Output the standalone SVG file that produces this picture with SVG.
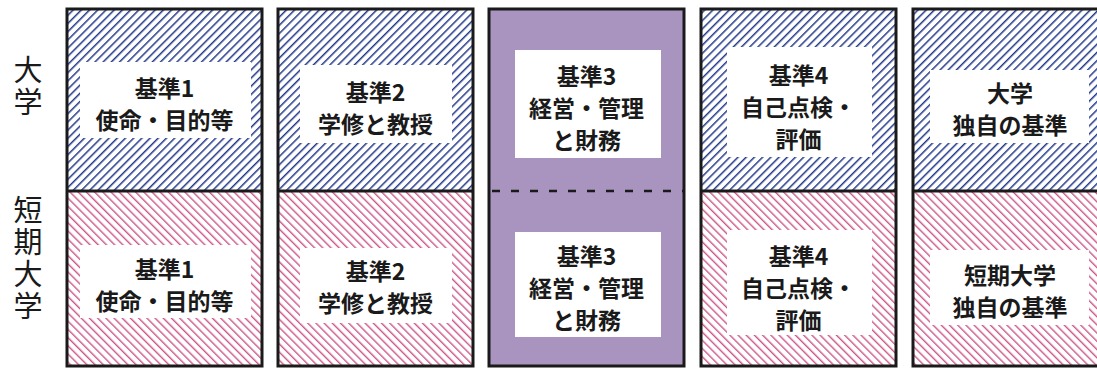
<svg xmlns="http://www.w3.org/2000/svg" width="1097" height="372" viewBox="0 0 1097 372">
  <defs>
    <pattern id="hatchBlue" patternUnits="userSpaceOnUse" width="5.8" height="5.8" patternTransform="rotate(45)">
      <rect width="5.8" height="5.8" fill="#ffffff"/>
      <line x1="0" y1="0" x2="0" y2="5.8" stroke="#23398a" stroke-width="3"/>
    </pattern>
    <pattern id="hatchPink" patternUnits="userSpaceOnUse" width="5.8" height="5.8" patternTransform="rotate(-45)">
      <rect width="5.8" height="5.8" fill="#ffffff"/>
      <line x1="0" y1="0" x2="0" y2="5.8" stroke="#cc5588" stroke-width="2.8"/>
    </pattern>
  </defs>
  <style>
    .univ { fill: url(#hatchBlue); }
    .junior { fill: url(#hatchPink); }
    .purple { fill: #a994c0; }
    .frame { fill: none; stroke: #1a1a1a; stroke-width: 3; }
    .div { stroke: #1a1a1a; stroke-width: 3; }
    .dash { stroke: #1a1a1a; stroke-width: 2.5; stroke-dasharray: 8 11; }
    .box { fill: #ffffff; }
    .t { font-family: "Noto Sans CJK JP", "Noto Sans", sans-serif; font-size: 23px; font-weight: 700; fill: #1a1a1a; text-anchor: middle; dominant-baseline: central; }
    .side { font-family: "Noto Sans CJK JP", sans-serif; font-size: 29px; font-weight: 400; fill: #1a1a1a; writing-mode: vertical-rl; letter-spacing: 3px; }
  </style>

  <g id="side-labels">
    <text class="side" x="28" y="55">大学</text>
    <text class="side" x="28" y="195">短期大学</text>
  </g>

  <g id="col1">
    <rect class="univ" x="67" y="9" width="195" height="182"/>
    <rect class="junior" x="67" y="191" width="195" height="175"/>
    <rect class="box" x="80" y="62" width="171" height="76"/>
    <text class="t" x="164.5" y="87">基準1<tspan x="164.5" dy="31.5">使命・目的等</tspan></text>
    <rect class="box" x="80" y="245" width="171" height="73"/>
    <text class="t" x="164.5" y="268">基準1<tspan x="164.5" dy="31.5">使命・目的等</tspan></text>
    <rect class="frame" x="67" y="9" width="195" height="357"/>
    <line class="div" x1="67" y1="191" x2="262" y2="191"/>
  </g>

  <g id="col2">
    <rect class="univ" x="278" y="9" width="195" height="182"/>
    <rect class="junior" x="278" y="191" width="195" height="175"/>
    <rect class="box" x="300" y="65" width="152" height="78"/>
    <text class="t" x="375.5" y="91">基準2<tspan x="375.5" dy="32">学修と教授</tspan></text>
    <rect class="box" x="300" y="248" width="152" height="75"/>
    <text class="t" x="375.5" y="270">基準2<tspan x="375.5" dy="31.5">学修と教授</tspan></text>
    <rect class="frame" x="278" y="9" width="195" height="357"/>
    <line class="div" x1="278" y1="191" x2="473" y2="191"/>
  </g>

  <g id="col3">
    <rect class="purple" x="489" y="9" width="195" height="357"/>
    <rect class="box" x="515" y="50" width="146" height="108"/>
    <text class="t" x="586.5" y="75">基準3<tspan x="586.5" dy="32">経営・管理</tspan><tspan x="586.5" dy="32">と財務</tspan></text>
    <rect class="box" x="515" y="232" width="146" height="105"/>
    <text class="t" x="586.5" y="255">基準3<tspan x="586.5" dy="32">経営・管理</tspan><tspan x="586.5" dy="32">と財務</tspan></text>
    <rect class="frame" x="489" y="9" width="195" height="357"/>
  </g>

  <g id="col4">
    <rect class="univ" x="701" y="9" width="195" height="182"/>
    <rect class="junior" x="701" y="191" width="195" height="175"/>
    <rect class="box" x="727" y="47" width="145" height="110"/>
    <text class="t" x="798.5" y="74">基準4<tspan x="798.5" dy="32">自己点検・</tspan><tspan x="798.5" dy="32">評価</tspan></text>
    <rect class="box" x="727" y="230" width="145" height="105"/>
    <text class="t" x="798.5" y="255">基準4<tspan x="798.5" dy="32">自己点検・</tspan><tspan x="798.5" dy="31.5">評価</tspan></text>
    <rect class="frame" x="701" y="9" width="195" height="357"/>
    <line class="div" x1="701" y1="191" x2="896" y2="191"/>
  </g>

  <g id="col5">
    <rect class="univ" x="913" y="9" width="195" height="182"/>
    <rect class="junior" x="913" y="191" width="195" height="175"/>
    <rect class="box" x="930" y="70" width="159" height="73"/>
    <text class="t" x="1010" y="92">大学<tspan x="1010" dy="31.5">独自の基準</tspan></text>
    <rect class="box" x="930" y="250" width="159" height="75"/>
    <text class="t" x="1010" y="274">短期大学<tspan x="1010" dy="31.5">独自の基準</tspan></text>
    <rect class="frame" x="913" y="9" width="195" height="357"/>
    <line class="div" x1="913" y1="191" x2="1108" y2="191"/>
  </g>

  <g id="connectors">
    <line class="dash" x1="492" y1="191" x2="684" y2="191"/>
  </g>
</svg>
